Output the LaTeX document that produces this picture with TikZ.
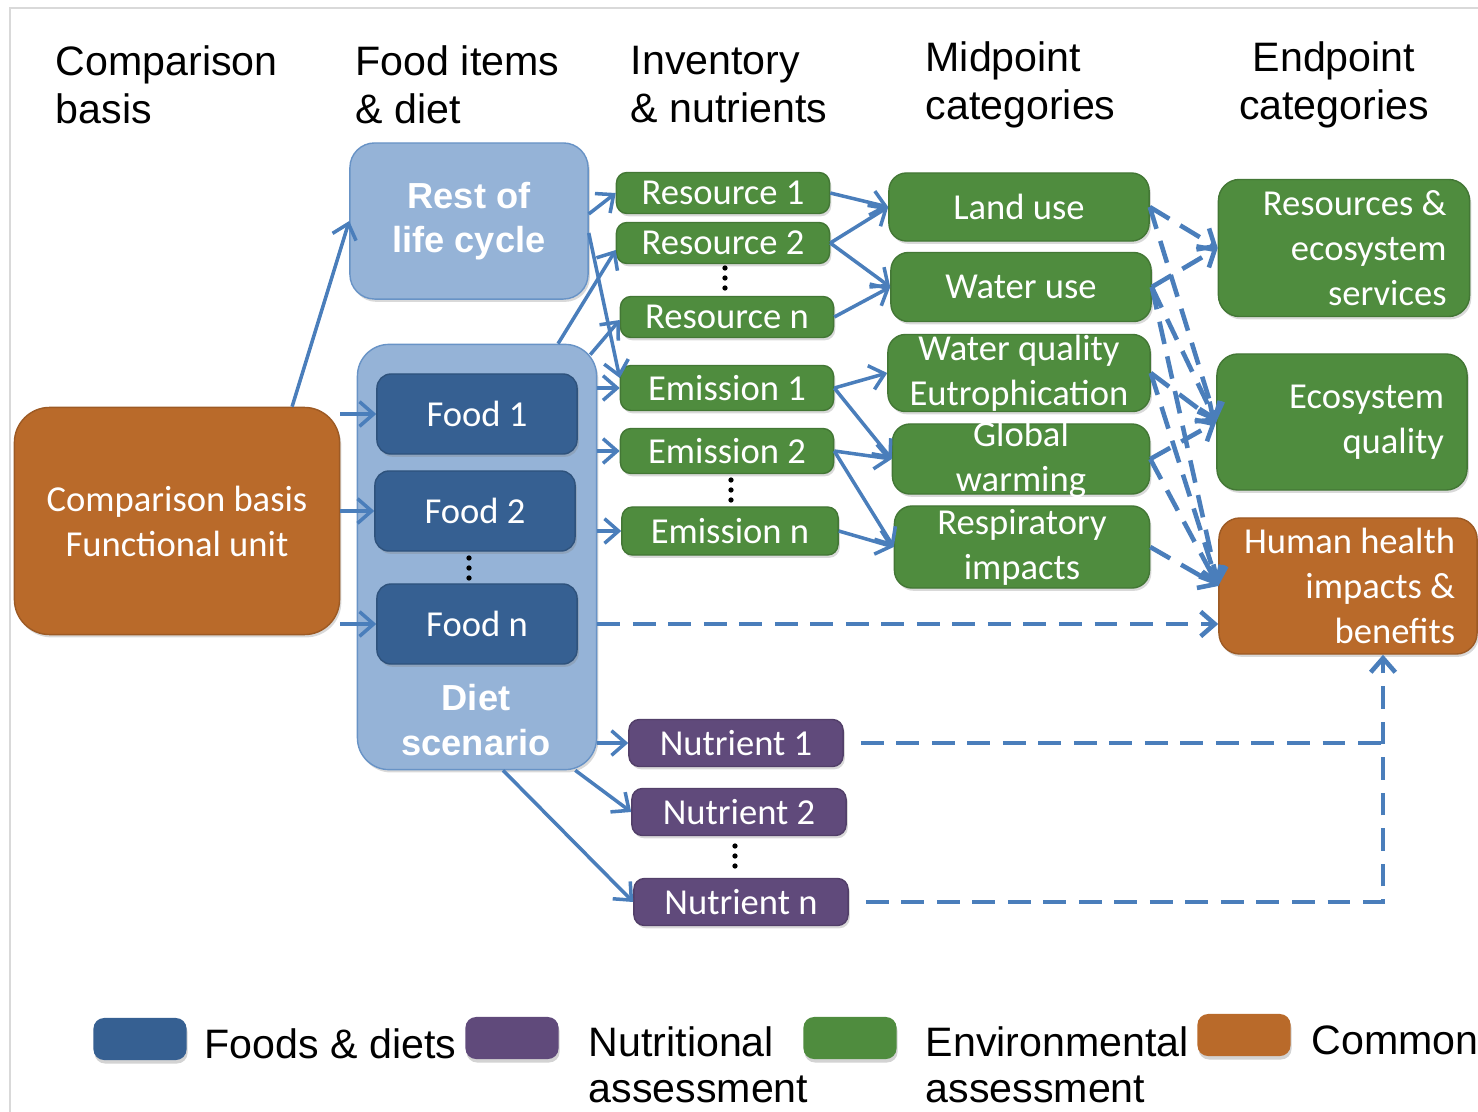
\documentclass[tikz,border=0pt]{standalone}
\usepackage{fontspec}
\setmainfont{Liberation Sans}
\newfontfamily\calibri{Carlito}
\usepackage{tikz}
\usetikzlibrary{arrows.meta, positioning, shadows}

\definecolor{commonOrange}{RGB}{185,106,42}
\definecolor{envGreen}{RGB}{79,140,62}
\definecolor{foodBlue}{RGB}{54,96,146}
\definecolor{dietBlue}{RGB}{149,179,215}
\definecolor{nutPurple}{RGB}{96,74,123}
\definecolor{flowBlue}{RGB}{74,126,187}

\tikzset{
    boxBase/.style={rectangle, inner sep=0pt, text=white, align=center,
        font=\calibri\fontsize{10.4}{12.8}\selectfont,
        drop shadow={shadow xshift=0.5pt, shadow yshift=-0.8pt, opacity=0.3}},
    commonBox/.style={boxBase, fill=commonOrange, draw=commonOrange!85!black, thin},
    envBox/.style={boxBase, fill=envGreen, draw=envGreen!85!black, thin, rounded corners=3pt},
    foodBox/.style={boxBase, fill=foodBlue, draw=foodBlue!85!black, thin, rounded corners=4pt,
        minimum width=2cm, minimum height=0.8cm},
    dietBox/.style={boxBase, fill=dietBlue, draw=flowBlue!60!dietBlue, thin,
        font=\bfseries\fontsize{10.3}{12.6}\selectfont},
    nutBox/.style={boxBase, fill=nutPurple, draw=nutPurple!85!black, thin, rounded corners=3pt,
        minimum width=2.14cm, minimum height=0.47cm},
    invBox/.style={envBox, minimum width=2.13cm, minimum height=0.41cm},
    midBox/.style={envBox, minimum width=2.6cm, rounded corners=5pt},
    endBox/.style={rounded corners=6pt, minimum width=2.5cm, minimum height=1.36cm},
    boxTxt/.style={inner sep=0pt, text=white, align=center, font=\calibri\fontsize{10.4}{12.8}\selectfont},
    endTxt/.style={boxTxt, align=right, anchor=east},
    dietTxt/.style={inner sep=0pt, text=white, align=center, font=\bfseries\fontsize{10.3}{12.6}\selectfont},
    headTxt/.style={inner sep=0pt, align=left, anchor=north west, font=\fontsize{11.7}{13.7}\selectfont},
    legendTxt/.style={inner sep=0pt, align=left, anchor=north west, font=\fontsize{11.7}{13.1}\selectfont},
    legendKey/.style={rectangle, rounded corners=3pt, minimum width=0.93cm, minimum height=0.42cm,
        drop shadow={shadow xshift=0.3pt, shadow yshift=-1pt, opacity=0.35}},
    flowArrow/.style={->, draw=flowBlue, line width=1pt},
    dashFlow/.style={flowArrow, line width=1.3pt, dash pattern=on 6.5pt off 3.6pt},
    frameLine/.style={draw=black!15, line width=0.6pt}
}

% three stacked dots between list items
\def\drawDots#1{
    \foreach \k in {-1,0,1} {
        \fill (#1) ++(0,\k*10) circle (0.75pt);
    }
}

\begin{document}
\begin{tikzpicture}[x=0.01cm, y=-0.01cm, >={Straight Barb[length=4pt, width=7pt]}]

    \useasboundingbox (0,0) rectangle (1478,1112);
    \draw[frameLine] (10,1112) -- (10,8) -- (1478,8);

    % --- Column headers ---
    \node[headTxt] (hBasis) at (55,45) {Comparison\\basis};
    \node[headTxt] (hFood) at (355,45) {Food items\\\& diet};
    \node[headTxt] (hInv) at (630,45) {Inventory\\\& nutrients};
    \node[headTxt] (hMid) at (925,41) {Midpoint\\categories};
    \node[headTxt, anchor=north, align=center] (hEnd) at (1334,41) {Endpoint\\categories};

    % --- Comparison basis ---
    \node[commonBox, minimum width=3.25cm, minimum height=2.27cm, rounded corners=10pt] (basis) at (177,521)
        {Comparison basis\\Functional unit};

    % --- Food items & diet ---
    \node[dietBox, minimum width=2.38cm, minimum height=1.56cm, rounded corners=7pt] (rest) at (469,221)
        {Rest of\\life cycle};
    \node[dietBox, minimum width=2.39cm, minimum height=4.25cm, rounded corners=9pt] (diet) at (477,557) {};
    \node[dietTxt] (dietT) at (476,720) {Diet\\scenario};

    \node[foodBox] (food1) at (477,414) {Food 1};
    \node[foodBox] (food2) at (475,511) {Food 2};
    \node[foodBox] (foodN) at (477,624) {Food n};
    \drawDots{469,568}

    % --- Inventory & nutrients ---
    \node[invBox] (res1) at (723,193) {Resource 1};
    \node[invBox] (res2) at (723,243) {Resource 2};
    \node[invBox] (resN) at (727,317) {Resource n};
    \drawDots{725,278}
    \node[invBox, minimum height=0.45cm] (em1) at (727,388) {Emission 1};
    \node[invBox, minimum height=0.45cm] (em2) at (727,451) {Emission 2};
    \node[invBox, minimum height=0.48cm, minimum width=2.16cm] (emN) at (730,531) {Emission n};
    \drawDots{731,490}

    \node[nutBox] (nut1) at (736,743) {Nutrient 1};
    \node[nutBox] (nut2) at (739,812) {Nutrient 2};
    \node[nutBox] (nutN) at (741,902) {Nutrient n};
    \drawDots{735,856}

    % --- Midpoint categories ---
    \node[midBox, minimum height=0.68cm] (land) at (1019,207) {Land use};
    \node[midBox, minimum height=0.69cm] (water) at (1021,287) {Water use};
    \node[midBox, minimum height=0.77cm, minimum width=2.62cm] (wqual) at (1019,373) {};
    \node[boxTxt] (wqualT) at (wqual) {Water quality\\Eutrophication};
    \node[midBox, minimum height=0.70cm, minimum width=2.57cm] (warm) at (1021,459) {};
    \node[boxTxt] (warmT) at (warm) {Global\\warming};
    \node[midBox, minimum height=0.82cm, minimum width=2.55cm] (resp) at (1022,547) {};
    \node[boxTxt] (respT) at (resp) {Respiratory\\impacts};

    % --- Endpoint categories ---
    \node[envBox, endBox, minimum width=2.51cm, minimum height=1.37cm] (resEco) at (1344,248) {};
    \node[endTxt] (resEcoT) at ([xshift=-0.23cm]resEco.east) {Resources \&\\ecosystem\\services};
    \node[envBox, endBox] (ecoQ) at (1342,422) {};
    \node[endTxt] (ecoQT) at ([xshift=-0.23cm]ecoQ.east) {Ecosystem\\quality};
    \node[commonBox, endBox, minimum width=2.58cm] (health) at (1348,586) {};
    \node[endTxt] (healthT) at ([xshift=-0.22cm]health.east) {Human health\\impacts \&\\benefits};

    % --- Solid flows ---
    \draw[flowArrow] ([xshift=1.15cm]basis.north) -- (rest.west);
    \foreach \f in {food1, food2, foodN} {
        \draw[flowArrow] (basis.east |- \f) -- (\f);
    }
    \draw[flowArrow] ([yshift=0.07cm]rest.east) -- (res1.west);
    \draw[flowArrow] ([yshift=-0.12cm]rest.east) -- ([yshift=0.1cm]em1.west);
    \draw[flowArrow] ([xshift=0.81cm]diet.north) -- ([yshift=-0.07cm]res2.west);
    \draw[flowArrow] ([shift={(-0.07cm,-0.11cm)}]diet.north east) -- ([yshift=-0.03cm]resN.west);
    \foreach \e in {em1, em2, emN, nut1} {
        \draw[flowArrow] (diet.east |- \e) -- (\e);
    }
    \draw[flowArrow] ([xshift=-0.22cm]diet.south east) -- (nut2.west);
    \draw[flowArrow] ([xshift=0.26cm]diet.south) -- (nutN.west);

    \foreach \a/\b in {res1/land, res2/land, res2/water, resN/water, em1/wqual,
                       em1/warm, em2/warm, em2/resp, emN/resp} {
        \draw[flowArrow] (\a.east) -- (\b.west);
    }

    % --- Dashed flows to endpoints ---
    \foreach \a/\b in {land/resEco, land/ecoQ, water/resEco, water/ecoQ, water/health,
                       wqual/ecoQ, wqual/health, warm/ecoQ, warm/health, resp/health} {
        \draw[dashFlow] (\a.east) -- (\b.west);
    }
    \draw[dashFlow] (diet.east |- foodN) -- (health.west |- foodN);

    \coordinate (healthIn) at ([xshift=0.35cm]health.south);
    \draw[dashFlow, -, shorten <=0.17cm] (nut1.east) -- (nut1.east -| healthIn);
    \draw[dashFlow, shorten <=0.17cm] (nutN.east) -- (nutN.east -| healthIn) -- (healthIn);

    % --- Legend ---
    \node[legendKey, fill=foodBlue] (keyFood) at (140,1039) {};
    \node[legendTxt] (txtFood) at (204,1028) {Foods \& diets};
    \node[legendKey, fill=nutPurple] (keyNut) at (512,1038) {};
    \node[legendTxt] (txtNut) at (588,1026) {Nutritional\\assessment};
    \node[legendKey, fill=envGreen] (keyEnv) at (850,1038) {};
    \node[legendTxt] (txtEnv) at (925,1026) {Environmental\\assessment};
    \node[legendKey, fill=commonOrange] (keyCom) at (1244,1035) {};
    \node[legendTxt] (txtCom) at (1311,1025) {Common};

\end{tikzpicture}
\end{document}
